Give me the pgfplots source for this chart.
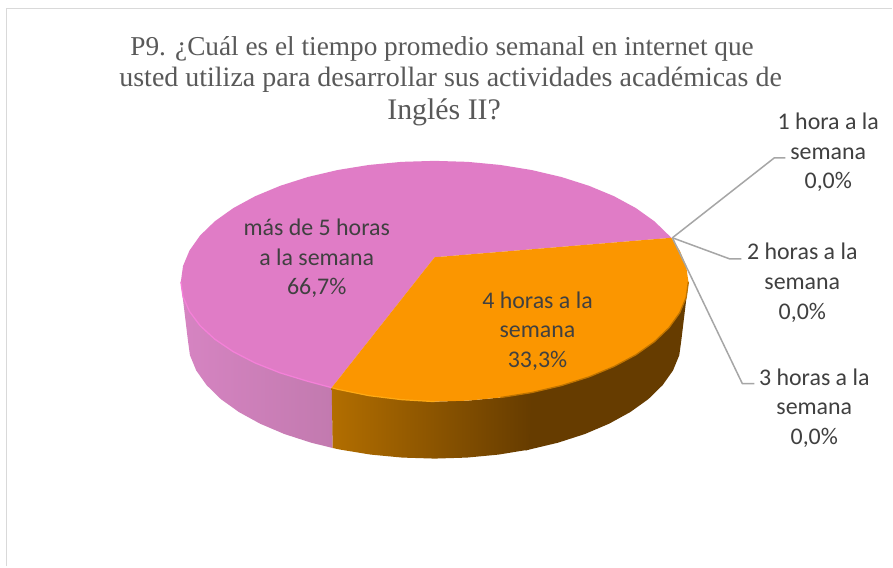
\documentclass[border=0pt]{standalone}
\usepackage{fontspec}
\setmainfont{Carlito}
\newfontfamily\titlefont{Liberation Serif}
\usepackage{pgfplots}
\pgfplotsset{compat=1.18}
\definecolor{pinktop}{HTML}{E07CC6}
\definecolor{pinkrim}{HTML}{F480D8}
\definecolor{pinksideA}{HTML}{D684C2}
\definecolor{pinksideB}{HTML}{C27AAF}
\definecolor{orangetop}{HTML}{FB9600}
\definecolor{orangerimA}{HTML}{FFAA14}
\definecolor{orangerimB}{HTML}{BE7300}
\definecolor{orangeside}{HTML}{B26E00}
\definecolor{orangedark}{HTML}{663C00}
\definecolor{leader}{HTML}{A6A6A6}
\definecolor{frameline}{HTML}{D9D9D9}
\definecolor{titlegray}{HTML}{595959}
\definecolor{labelgray}{HTML}{404040}
\begin{document}
\begin{tikzpicture}
\begin{axis}[
    scale only axis,
    width=893bp, height=567bp,
    xmin=0, xmax=893, ymin=0, ymax=567,
    y dir=reverse,
    hide axis,
    clip=false,
    no markers,
    every axis plot/.append style={line join=round},
]
% page and frame
\addplot[fill=white, draw=none] coordinates {(0,0) (893,0) (893,567) (0,567) (0,0)};
\addplot[frameline, line width=1.6bp] coordinates {(6.5,567) (6.5,8.5) (893,8.5)};

% side, pink
\addplot[draw=none, left color=pinksideA, right color=pinksideB] coordinates {
(181,282) (183.2,297) (189.7,311.8) (200.3,326) (215,339.5) (233.5,352) (255.4,363.3) (280.4,373.2) (308,381.6) (332.5,388)
(333,448.4) (311.5,443.1) (284.6,434.4) (260.4,424.1) (239.1,412.4) (221.1,399.5) (206.8,385.5) (196.4,370.8) (190.1,355.5) (188,340) (181,282)
} -- cycle;
% side, orange
\addplot[draw=none, fill=orangedark] coordinates {
(528,393) (532.2,392.9) (562,385.9) (589.6,377.2) (614.6,366.8) (636.5,355.1) (655,342) (669.7,327.9) (680.3,313.1) (686.8,297.7) (689,282)
(682,340) (679.9,355.5) (673.6,370.8) (663.2,385.5) (648.9,399.5) (630.9,412.4) (609.6,424.1) (585.4,434.4) (558.5,443.1) (529.5,450) (526,451) (528,393)
} -- cycle;
\addplot[draw=none, left color=orangeside, right color=orangedark] coordinates {
(332,388) (337.8,389.6) (369.2,396) (401.9,400) (435,402) (468.1,401) (500.8,397.9) (532.2,392.9)
(529.5,450) (499,455) (467.2,458) (435,459) (402.8,458) (371,455) (340.5,450) (333,448.4) (332,388)
} -- cycle;

% top, pink
\addplot[draw=none, fill=pinktop] coordinates {
(435,257.5) (672,238) (655,221.5) (636.5,208.3) (614.6,196.4) (589.6,186) (562,177.2) (532.2,170.2) (500.8,165.1) (468.1,162) (435,161)
(401.9,162) (369.2,165.1) (337.8,170.2) (308,177.2) (280.4,186) (255.4,196.4) (233.5,208.3) (215,221.5) (200.3,235.7) (189.7,250.7) (183.2,266.2) (181,282)
(183.2,297) (189.7,311.8) (200.3,326) (215,339.5) (233.5,352) (255.4,363.3) (280.4,373.2) (308,381.6) (332,388) (435,257.5)
} -- cycle;
% top, orange
\addplot[draw=none, fill=orangetop] coordinates {
(435,257.5) (672,238) (680.3,250.7) (686.8,266.2) (689,282) (686.8,297.7) (680.3,313.1) (669.7,327.9) (655,342) (636.5,355.1) (614.6,366.8) (589.6,377.2) (562,385.9)
(532.2,392.9) (500.8,397.9) (468.1,401) (435,402) (401.9,400) (369.2,396) (337.8,389.6) (332,388) (435,257.5)
} -- cycle;

% rim highlights
\addplot[pinkrim, line width=1.3bp] coordinates {
(181,282) (183.2,297) (189.7,311.8) (200.3,326) (215,339.5) (233.5,352) (255.4,363.3) (280.4,373.2) (308,381.6) (332,388)};
\addplot[orangerimA, line width=1.2bp] coordinates {
(332,388) (337.8,389.6) (369.2,396) (401.9,400) (435,402)};
\addplot[orangerimB, line width=1.3bp] coordinates {
(500.8,397.9) (532.2,392.9) (562,385.9) (589.6,377.2) (614.6,366.8) (636.5,355.1) (655,342) (669.7,327.9) (680.3,313.1) (686.8,297.7) (689,282)};

% leader lines
\addplot[leader, line width=1.5bp] coordinates {(673,238) (775,158) (786,158)};
\addplot[leader, line width=1.5bp] coordinates {(673,238) (730,259) (742,259)};
\addplot[leader, line width=1.5bp] coordinates {(673,238) (743,384) (755,384)};

% title
\node[text=titlegray, inner sep=0pt, anchor=base, font=\titlefont\fontsize{27.4}{32}\selectfont] at (axis cs:442.5,56) {P9. ¿Cuál es el tiempo promedio semanal en internet que};
\node[text=titlegray, inner sep=0pt, anchor=base, font=\titlefont\fontsize{28.1}{32}\selectfont] at (axis cs:451,87) {usted utiliza para desarrollar sus actividades académicas de};
\node[text=titlegray, inner sep=0pt, anchor=base, font=\titlefont\fontsize{30}{32}\selectfont] at (axis cs:444.5,120) {Inglés II?};

% labels
\node[align=center, text=labelgray, inner sep=0pt, font=\fontsize{24}{29.8}\selectfont] at (axis cs:317,258.5) {más de 5 horas\\a la semana\\66,7\%};
\node[align=center, text=labelgray, inner sep=0pt, font=\fontsize{24}{29.8}\selectfont] at (axis cs:538,331.5) {4 horas a la\\semana\\33,3\%};
\node[align=center, text=labelgray, inner sep=0pt, font=\fontsize{24}{29.8}\selectfont] at (axis cs:829,152.5) {1 hora a la\\semana\\0,0\%};
\node[align=center, text=labelgray, inner sep=0pt, font=\fontsize{24}{29.8}\selectfont] at (axis cs:803,283) {2 horas a la\\semana\\0,0\%};
\node[align=center, text=labelgray, inner sep=0pt, font=\fontsize{24}{29.8}\selectfont] at (axis cs:815,408.5) {3 horas a la\\semana\\0,0\%};
\end{axis}
\end{tikzpicture}
\end{document}
